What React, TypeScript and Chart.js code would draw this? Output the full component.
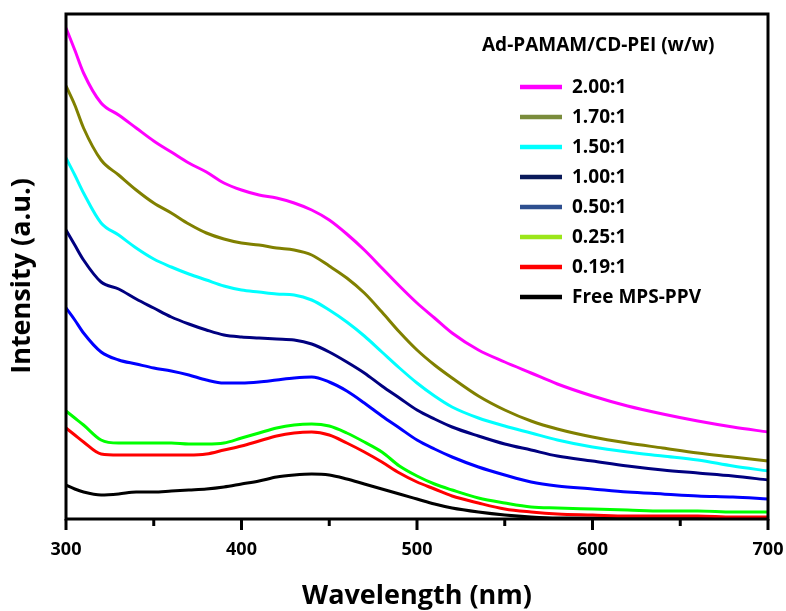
import React, { useEffect, useRef } from "react";
import { Chart, registerables } from "chart.js";

Chart.register(...registerables);

const wavelengths = [300, 305, 310, 320, 330, 340, 350, 360, 370, 380, 390, 400, 410, 420, 430, 440, 450, 460, 470, 480, 490, 500, 510, 520, 535, 550, 565, 580, 600, 620, 640, 660, 680, 700];

const seriesLabels = ["2.00:1", "1.70:1", "1.50:1", "1.00:1", "0.50:1", "0.25:1", "0.19:1", "Free MPS-PPV"];

const ratio200 = [491, 469, 446, 416, 404, 391, 378, 367, 356, 347, 336, 329, 324, 321, 316, 309, 299, 285, 269, 251, 233, 216, 201, 186, 169, 157, 146, 135, 123, 113, 105, 98, 92, 87];
const ratio170 = [433, 414, 391, 359, 344, 329, 316, 306, 295, 286, 280, 276, 274, 271, 269, 264, 253, 241, 226, 207, 187, 169, 154, 141, 123, 109, 98, 90, 82, 76, 71, 66, 62, 58];
const ratio150 = [361, 344, 326, 296, 284, 271, 260, 252, 245, 239, 233, 229, 227, 225, 224, 219, 209, 197, 183, 167, 151, 136, 123, 112, 101, 93, 86, 79, 72, 67, 63, 59, 53, 48];
const ratio100 = [289, 274, 259, 237, 230, 220, 211, 202, 195, 189, 184, 182, 181, 180, 179, 175, 167, 157, 146, 133, 121, 109, 100, 92, 83, 75, 69, 63, 58, 53, 49, 46, 43, 39];
const ratio050 = [211, 199, 186, 167, 159, 155, 151, 148, 144, 139, 136, 136, 137, 139, 141, 142, 137, 128, 116, 103, 91, 79, 70, 62, 52, 44, 37, 33, 30, 27, 25, 23, 22, 20];
const ratio025 = [108, 101, 94, 79, 76, 76, 76, 76, 75, 75, 76, 81, 86, 91, 94, 95, 93, 86, 77, 67, 53, 43, 35, 29, 21, 16, 12, 11, 10, 9, 8, 8, 7, 7];
const ratio019 = [91, 84, 77, 65, 64, 64, 64, 64, 64, 65, 69, 73, 78, 83, 86, 87, 84, 76, 67, 57, 46, 37, 30, 23, 16, 10, 7, 5, 4, 3, 3, 3, 2, 2];
const freePolymer = [34, 30, 27, 24, 25, 27, 27, 28, 29, 30, 32, 35, 38, 42, 44, 45, 44, 40, 35, 30, 25, 20, 15, 11, 7, 4, 2, 1, 1, 1, 1, 1, 1, 1];

const seriesValues = [ratio200, ratio170, ratio150, ratio100, ratio050, ratio025, ratio019, freePolymer];

const xTicks = [300, 400, 500, 600, 700];
const xMinorTicks = [350, 450, 550, 650];

const legendTitle = "Ad-PAMAM/CD-PEI (w/w)";
const xTitle = "Wavelength (nm)";
const yTitle = "Intensity (a.u.)";

const lineColors = ["#ff00ff", "#808000", "#00ffff", "#000080", "#0000ff", "#00ff00", "#ff0000", "#000000"];
const swatchColors = ["#ff00ff", "#7a8c3c", "#00ffff", "#0a1a5a", "#2e4f8f", "#9be61a", "#ff0000", "#000000"];

const FONT = "'Open Sans', sans-serif";

const framePlugin = {
  id: "frameAndLegend",
  afterDraw(chart: any) {
    const { ctx, chartArea } = chart;
    const xs = chart.scales.x;
    ctx.save();
    ctx.strokeStyle = "#000";
    ctx.lineWidth = 3;
    ctx.strokeRect(chartArea.left, chartArea.top, chartArea.right - chartArea.left, chartArea.bottom - chartArea.top);
    ctx.lineCap = "butt";
    xTicks.forEach((v) => {
      const px = xs.getPixelForValue(v);
      ctx.beginPath();
      ctx.moveTo(px, chartArea.bottom);
      ctx.lineTo(px, chartArea.bottom + 11);
      ctx.stroke();
    });
    xMinorTicks.forEach((v) => {
      const px = xs.getPixelForValue(v);
      ctx.beginPath();
      ctx.moveTo(px, chartArea.bottom);
      ctx.lineTo(px, chartArea.bottom + 7);
      ctx.stroke();
    });
    // y-axis title
    ctx.fillStyle = "#000";
    ctx.save();
    ctx.translate(22, 276);
    ctx.rotate(-Math.PI / 2);
    ctx.font = `bold 27px ${FONT}`;
    ctx.textAlign = "center";
    ctx.textBaseline = "middle";
    ctx.fillText(yTitle, 0, 0);
    ctx.restore();
    // legend
    ctx.font = `bold 19px ${FONT}`;
    ctx.textBaseline = "middle";
    ctx.textAlign = "left";
    ctx.fillText(legendTitle, 482, 46);
    chart.data.datasets.forEach((ds: any, i: number) => {
      const y = 87 + i * 30;
      ctx.strokeStyle = swatchColors[i];
      ctx.lineWidth = 4.5;
      ctx.beginPath();
      ctx.moveTo(520, y);
      ctx.lineTo(562, y);
      ctx.stroke();
      ctx.fillText(ds.label, 572, y + 1);
    });
    ctx.restore();
  },
};

export default function App() {
  const ref = useRef<HTMLCanvasElement>(null);
  useEffect(() => {
    if (!ref.current) return;
    const chart = new Chart(ref.current, {
      type: "line",
      data: {
        datasets: seriesLabels.map((label, i) => ({
          label,
          data: wavelengths.map((w, j) => ({ x: w, y: seriesValues[i][j] })),
          borderColor: lineColors[i],
          backgroundColor: lineColors[i],
          borderWidth: 3,
          pointRadius: 0,
          cubicInterpolationMode: "monotone" as const,
          fill: false,
        })),
      },
      options: {
        responsive: false,
        animation: false,
        layout: { padding: { top: 14, right: 18, bottom: 0, left: 0 } },
        plugins: { legend: { display: false }, tooltip: { enabled: false } },
        scales: {
          x: {
            type: "linear",
            min: 300,
            max: 700,
            afterFit: (axis: any) => {
              axis.height = 92;
              axis.paddingLeft = 0;
              axis.paddingRight = 0;
            },
            afterBuildTicks: (axis: any) => { axis.ticks = xTicks.map((v) => ({ value: v })); },
            grid: { display: false, drawTicks: false },
            border: { display: false },
            ticks: { color: "#000", padding: 20, font: { family: FONT, size: 18, weight: "bold" }, maxRotation: 0 },
            title: { display: true, text: xTitle, color: "#000", font: { family: FONT, size: 27, weight: "bold", lineHeight: 1.1 }, padding: { top: 0, bottom: 0 } },
          },
          y: {
            type: "linear",
            min: 0,
            max: 505,
            afterFit: (axis: any) => {
              axis.width = 66;
              axis.paddingTop = 0;
              axis.paddingBottom = 0;
            },
            grid: { display: false, drawTicks: false },
            border: { display: false },
            ticks: { display: false },
            title: { display: false, text: yTitle },
          },
        },
      },
      plugins: [framePlugin],
    });
    return () => chart.destroy();
  }, []);
  return (
    <div style={{ position: "absolute", left: 0, top: 0, width: 786, height: 611, background: "#fff" }}>
      <canvas ref={ref} width={786} height={611} />
    </div>
  );
}
